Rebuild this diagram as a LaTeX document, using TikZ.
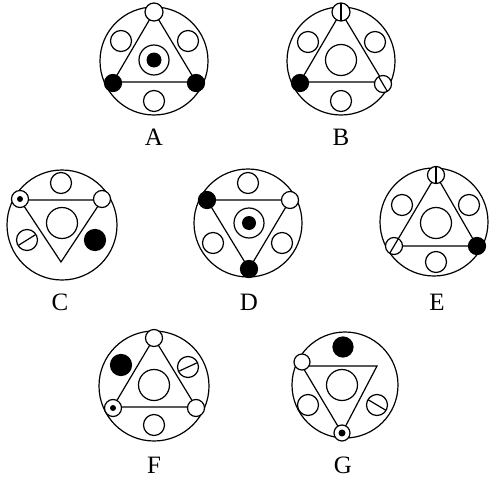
\documentclass[tikz,border=0pt]{standalone}
\usepackage{fontspec}
\setmainfont{Liberation Serif}
\tikzset{
  ring/.style={draw, line width=1.2pt},
  hole/.style={draw, fill=white, line width=1.2pt},
  blob/.style={draw, fill=black, line width=1.2pt},
  bar/.style={line width=1.2pt},
  lab/.style={font=\fontsize{25}{25}\selectfont, inner sep=0pt}
}
\begin{document}
\begin{tikzpicture}[x=1pt,y=-1pt]
\useasboundingbox (0,0) rectangle (490,479);
% ---------- A ----------
\draw[ring] (154,61) circle (54);
\draw[ring] (154,12) -- (113,82) -- (196,82) -- cycle;
\draw[hole] (154,12) circle (9);
\draw[hole] (121,41) circle (10.5);
\draw[hole] (188,41) circle (10.5);
\draw[hole] (154,60) circle (15);
\fill (154,60) circle (7.5);
\draw[blob] (113,83) circle (8.5);
\draw[blob] (196,83) circle (8.5);
\draw[hole] (154,101) circle (10.5);
\node[lab] (labA) at (154,137) {A};
% ---------- B ----------
\draw[ring] (341,61) circle (54);
\draw[ring] (341,12) -- (300,82) -- (383,82) -- cycle;
\draw[hole] (341,12) circle (9);
\draw[bar] (341,3) -- (341,21);
\draw[hole] (308,42) circle (10.5);
\draw[hole] (375,42) circle (10.5);
\draw[hole] (341,60) circle (15.5);
\draw[blob] (300,83) circle (8.5);
\draw[hole] (383,84) circle (8.5);
\draw[bar] (378.7,76.7) -- (387.3,91.3);
\draw[hole] (341,101) circle (10.5);
\node[lab] (labB) at (341,137) {B};
% ---------- C ----------
\draw[ring] (62,225) circle (55);
\draw[ring] (20,200) -- (102,200) -- (61,262) -- cycle;
\draw[hole] (61,183) circle (10.5);
\draw[hole] (20,199) circle (8.5);
\fill (20,199) circle (3);
\draw[hole] (102,199) circle (8.5);
\draw[hole] (62,223) circle (15.5);
\draw[hole] (27,240) circle (10.5);
\draw[bar] (18.5,245.3) -- (35.5,234.7);
\draw[blob] (95,240) circle (10.5);
\node[lab] (labC) at (60,302) {C};
% ---------- D ----------
\draw[ring] (248,223) circle (54);
\draw[ring] (207,200) -- (290,200) -- (249,269) -- cycle;
\draw[hole] (248,183) circle (10.5);
\draw[blob] (207,200) circle (8.5);
\draw[hole] (290,200) circle (8.5);
\draw[hole] (249,223) circle (15);
\fill (249,223) circle (7);
\draw[hole] (213,243) circle (10.5);
\draw[hole] (282,243) circle (10.5);
\draw[blob] (249,269) circle (8.5);
\node[lab] (labD) at (249,302) {D};
% ---------- E ----------
\draw[ring] (434,222) circle (54);
\draw[ring] (436,175) -- (394,246) -- (477,246) -- cycle;
\draw[hole] (436,175) circle (8.5);
\draw[bar] (436,166.5) -- (436,183.5);
\draw[hole] (402,205) circle (10.5);
\draw[hole] (469,205) circle (10.5);
\draw[hole] (436,223) circle (15.5);
\draw[hole] (394,246) circle (8.5);
\draw[bar] (389.7,253.3) -- (398.3,238.7);
\draw[blob] (477,246) circle (8.5);
\draw[hole] (436,262) circle (10.5);
\node[lab] (labE) at (437,302) {E};
% ---------- F ----------
\draw[ring] (154,386) circle (55);
\draw[ring] (154,338) -- (113,407) -- (196,407) -- cycle;
\draw[hole] (154,338) circle (8.5);
\draw[blob] (121,365) circle (10.5);
\draw[hole] (188,367) circle (10.5);
\draw[bar] (178.9,371.2) -- (197.1,362.8);
\draw[hole] (154,385) circle (15.5);
\draw[hole] (113,408) circle (8.5);
\fill (113,408) circle (3);
\draw[hole] (196,408) circle (8.5);
\draw[hole] (154,425) circle (10.5);
\node[lab] (labF) at (154,465) {F};
% ---------- G ----------
\draw[ring] (345,385) circle (53);
\draw[ring] (302,366) -- (377,366) -- (342,433) -- cycle;
\draw[blob] (343,347) circle (10);
\draw[hole] (302,362) circle (8);
\draw[hole] (342,385) circle (15.5);
\draw[hole] (308,405) circle (10.5);
\draw[hole] (377,405) circle (10.5);
\draw[bar] (368.4,399.9) -- (385.6,410.1);
\draw[hole] (342,433) circle (8);
\fill (342,433) circle (3.5);
\node[lab] (labG) at (343,465) {G};
\end{tikzpicture}
\end{document}
